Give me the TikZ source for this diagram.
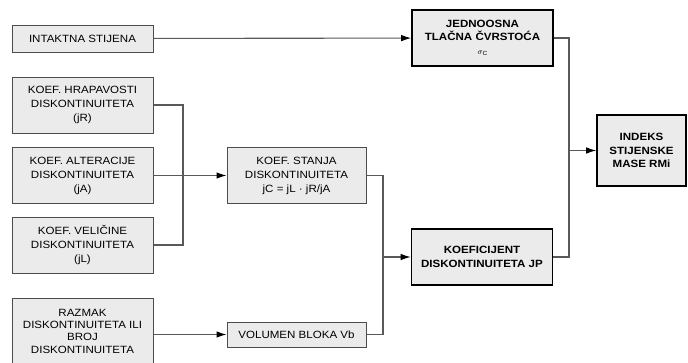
\documentclass[tikz,border=0pt]{standalone}
\usepackage{fontspec}
\setmainfont{Liberation Sans}[FakeStretch=1.1]
\usetikzlibrary{arrows.meta}

\begin{document}
\begin{tikzpicture}[x=1pt, y=-1pt,
>={Latex[length=10pt,width=6.5pt,black]},
line width=1.1pt,
draw=black!65,
boxx/.style={rectangle, minimum width=141pt, minimum height=56pt, inner sep=0pt, align=center, draw=black!70, line width=1pt, fill=black!8, font=\fontsize{10.5}{14}\selectfont},
boldbox/.style={boxx, draw=black, line width=1.6pt, font=\fontsize{10.5}{13.5}\selectfont\bfseries},
]
  \useasboundingbox (0,0) rectangle (688,362);

  % inputs on the left
  \node (intakt) [boxx, minimum height=27pt] at (82.5,38.5) {INTAKTNA STIJENA};
  \node (jR) [boxx] at (82.5,105) {KOEF. HRAPAVOSTI\\DISKONTINUITETA\\(jR)};
  \node (jA) [boxx] at (82.5,175.5) {KOEF. ALTERACIJE\\DISKONTINUITETA\\(jA)};
  \node (jL) [boxx] at (82.5,245) {KOEF. VELIČINE\\DISKONTINUITETA\\(jL)};
  \node (razmak) [boxx, minimum height=66pt, font=\fontsize{10.5}{12.3}\selectfont] at (82.5,331) {RAZMAK\\DISKONTINUITETA ILI\\BROJ\\DISKONTINUITETA};

  % middle column
  \node (stanja) [boxx, minimum width=139pt] at (296.5,175.5) {KOEF. STANJA\\DISKONTINUITETA\\jC = jL · jR/jA};
  \node (vb) [boxx, minimum width=139pt, minimum height=25pt] at (296.5,334.5) {VOLUMEN BLOKA Vb};

  % results
  \node (jedn) [boldbox] at (482.5,38) {JEDNOOSNA\\TLAČNA ČVRSTOĆA\\{\fontsize{8.5}{9}\selectfont$\sigma_{\mathrm{C}}$}};
  \node (jp) [boldbox] at (482,257) {KOEFICIJENT\\DISKONTINUITETA JP};
  \node (rmi) [boldbox, minimum width=89pt, minimum height=71pt] at (641.5,150.5) {INDEKS\\STIJENSKE\\MASE RMi};

  \coordinate (jjoin) at (183,175.5);
  \coordinate (pjoin) at (383,257);
  \coordinate (rjoin) at (569,150.5);

  \draw[->] (intakt) -- (jedn);
  \draw (jR) -| (jjoin) |- (jL);
  \draw[->] (jA) -- (stanja);
  \draw (stanja) -| (pjoin) |- (vb);
  \draw[->] (pjoin) -- (jp);
  \draw[->] (razmak.east |- vb) -- (vb);
  \draw (jedn) -| (rjoin) |- (jp);
  \draw[->] (rjoin) -- (rmi);
\end{tikzpicture}
\end{document}
